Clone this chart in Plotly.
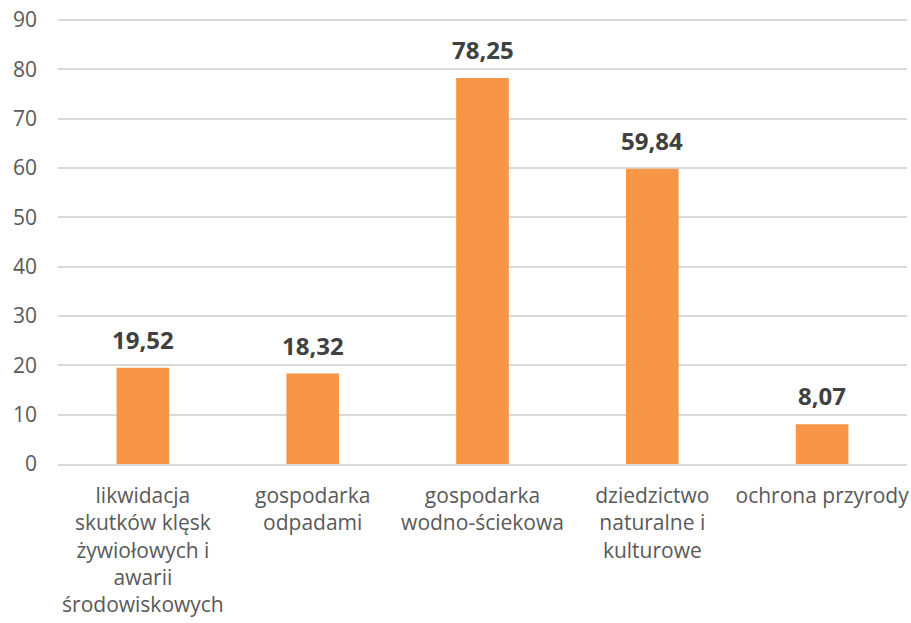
import plotly.graph_objects as go

categories = [
    "likwidacja<br>skutków klęsk<br>żywiołowych i<br>awarii<br>środowiskowych",
    "gospodarka<br>odpadami",
    "gospodarka<br>wodno-ściekowa",
    "dziedzictwo<br>naturalne i<br>kulturowe",
    "ochrona przyrody",
]
values = [19.52, 18.32, 78.25, 59.84, 8.07]
y_ticks = [0, 10, 20, 30, 40, 50, 60, 70, 80, 90]

BAR = "#F79646"
GRID = "#D9D9D9"
FONT = "Open Sans"

fig = go.Figure(go.Bar(
    x=categories, y=values, marker=dict(color=BAR, line=dict(width=0)),
    width=0.31, hoverinfo="skip",
))

for c, v in zip(categories, values):
    fig.add_annotation(
        x=c, y=v, text="<b>" + f"{v:.2f}".replace(".", ",") + "</b>",
        showarrow=False, yanchor="bottom", yshift=10,
        font=dict(family=FONT, size=24, color="#404040"),
    )

fig.update_layout(
    width=911, height=623,
    margin=dict(l=58, r=4, t=18, b=159),
    plot_bgcolor="white", paper_bgcolor="white",
    showlegend=False,
    font=dict(family=FONT, size=21, color="#595959"),
    bargap=0.69,
)
fig.update_yaxes(
    range=[0, 90.4], tickvals=y_ticks, showgrid=True, gridcolor=GRID, gridwidth=1.5,
    zeroline=False, showline=False, ticks="", ticklabelstandoff=20,
    automargin=False,
    tickfont=dict(family=FONT, size=21, color="#595959"),
)
fig.update_xaxes(
    showline=True, linecolor=GRID, linewidth=1.5, ticks="",
    ticklabelstandoff=12, tickangle=0, automargin=False,
    tickfont=dict(family=FONT, size=21, color="#595959"),
)

fig.write_html(
    "out.html",
    config={"displayModeBar": False},
    post_script="document.body.style.margin='0';document.body.style.overflow='hidden';",
)
